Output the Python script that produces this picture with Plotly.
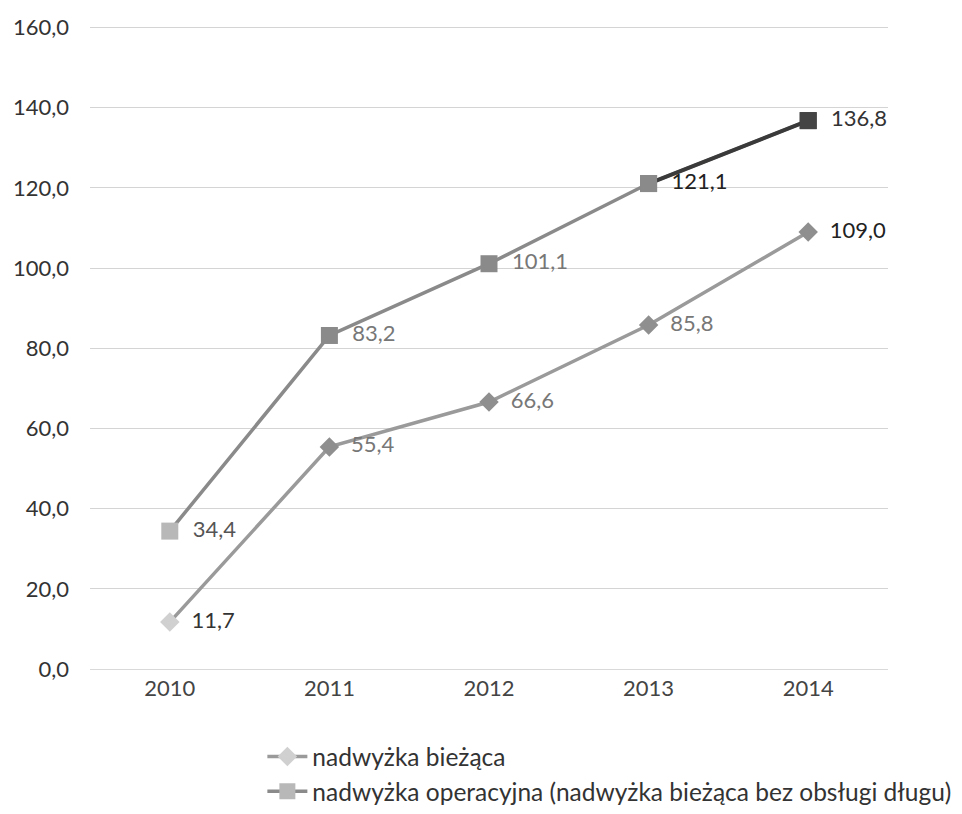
import plotly.graph_objects as go

years = ["2010", "2011", "2012", "2013", "2014"]
biezaca = [11.7, 55.4, 66.6, 85.8, 109.0]
operacyjna = [34.4, 83.2, 101.1, 121.1, 136.8]
name_b = "nadwyżka bieżąca"
name_o = "nadwyżka operacyjna (nadwyżka bieżąca bez obsługi długu)"
y_ticks = [0, 20, 40, 60, 80, 100, 120, 140, 160]


def fmt(v):
    return f"{v:.1f}".replace(".", ",")


font = "Lato"
fs = 22
fig = go.Figure()
fig.add_trace(go.Scatter(
    x=years, y=biezaca, name=name_b, mode="lines+markers+text",
    line=dict(color="#9a9a9a", width=3.5),
    marker=dict(symbol="diamond", size=15,
                color=["#d0d0d0", "#8f8f8f", "#8f8f8f", "#8f8f8f", "#8f8f8f"]),
    text=["  " + fmt(v) for v in biezaca], textposition="middle right",
    textfont=dict(family=font, size=fs,
                  color=["#333333", "#777777", "#777777", "#777777", "#222222"]),
))
fig.add_trace(go.Scatter(
    x=years, y=operacyjna, name=name_o, mode="lines+markers+text",
    line=dict(color="#8a8a8a", width=3.5),
    marker=dict(symbol="square", size=17,
                color=["#b8b8b8", "#8a8a8a", "#8a8a8a", "#8a8a8a", "#444444"]),
    text=["  " + fmt(v) for v in operacyjna], textposition="middle right",
    textfont=dict(family=font, size=fs,
                  color=["#555555", "#777777", "#777777", "#222222", "#333333"]),
))
# darker last segment of the operating-surplus line
fig.add_trace(go.Scatter(
    x=years[3:], y=operacyjna[3:], mode="lines", showlegend=False, hoverinfo="skip",
    line=dict(color="#3a3a3a", width=4),
))
fig.add_trace(go.Scatter(
    x=years[3:], y=operacyjna[3:], mode="markers", showlegend=False, hoverinfo="skip",
    marker=dict(symbol="square", size=17, color=["#8a8a8a", "#444444"]),
))
fig.update_layout(
    width=962, height=814,
    margin=dict(l=82, r=82, t=18, b=153),
    paper_bgcolor="white", plot_bgcolor="white",
    font=dict(family=font, size=fs, color="#444444"),
    showlegend=True,
    legend=dict(orientation="v", x=0.216, xanchor="left",
                yref="container", y=0.108, yanchor="top",
                font=dict(family=font, size=24.5, color="#333333"),
                itemwidth=40, bgcolor="rgba(0,0,0,0)"),
    xaxis=dict(type="category", showgrid=False, showline=True, linecolor="#d9d9d9",
               ticks="", tickfont=dict(size=fs, color="#444444"), range=[-0.5, 4.5],
               automargin=False),
    yaxis=dict(range=[0, 160.4], tickvals=y_ticks,
               ticktext=[fmt(v) for v in y_ticks], showgrid=True, gridcolor="#d4d4d4",
               zeroline=False, showline=False, ticks="", ticklabelstandoff=20,
               tickfont=dict(size=fs, color="#333333"), automargin=False),
)
fig.write_html("out.html")
